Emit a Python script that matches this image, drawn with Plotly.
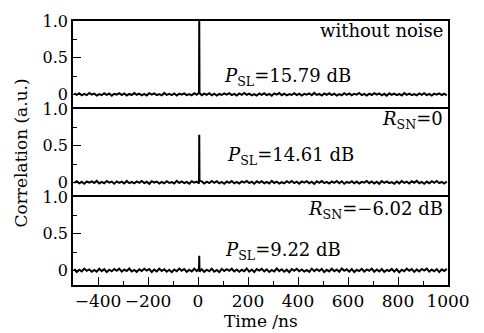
import plotly.graph_objects as go
from plotly.subplots import make_subplots

time_ns = list(range(-495, 0, 10)) + [4, 5, 6] + list(range(15, 1000, 10))

corr_clean = [
    0.012,-0.008,0.015,-0.014,0.006,-0.011,0.018,-0.005,0.009,-0.016,
    0.004,-0.012,0.014,-0.007,0.011,-0.018,0.008,-0.003,0.016,-0.010,
    0.013,-0.015,0.005,-0.009,0.017,-0.006,0.010,-0.013,0.007,-0.017,
    0.015,-0.004,0.012,-0.011,0.003,-0.014,0.019,-0.008,0.006,-0.012,
    0.011,-0.016,0.009,-0.005,0.014,-0.010,0.004,-0.013,0.016,-0.007,
    0.020, 1.0, 0.018,
    -0.012,0.010,-0.006,0.015,-0.014,0.008,-0.017,0.005,-0.009,0.013,
    -0.004,0.016,-0.011,0.007,-0.015,0.012,-0.008,0.018,-0.006,0.009,
    -0.013,0.004,-0.016,0.011,-0.007,0.014,-0.010,0.006,-0.018,0.013,
    -0.005,0.017,-0.012,0.008,-0.014,0.003,-0.009,0.015,-0.011,0.010,
    -0.016,0.007,-0.004,0.012,-0.013,0.019,-0.008,0.005,-0.015,0.011,
    -0.006,0.014,-0.010,0.009,-0.017,0.004,-0.012,0.016,-0.007,0.013,
    -0.014,0.008,-0.005,0.018,-0.011,0.006,-0.016,0.010,-0.009,0.015,
    -0.003,0.012,-0.013,0.007,-0.018,0.014,-0.006,0.011,-0.010,0.005,
    -0.015,0.017,-0.008,0.009,-0.012,0.004,-0.014,0.013,-0.007,0.016,
    -0.011,0.006,-0.017,0.010,-0.005,0.012,-0.009,0.008,-0.013,
]

corr_rsn0 = [
    -0.010,0.016,-0.013,0.007,-0.019,0.011,-0.005,0.014,-0.008,0.020,
    -0.015,0.006,-0.012,0.017,-0.004,0.010,-0.018,0.013,-0.007,0.009,
    -0.016,0.019,-0.011,0.005,-0.014,0.012,-0.006,0.018,-0.010,0.008,
    -0.020,0.015,-0.003,0.011,-0.017,0.007,-0.013,0.016,-0.009,0.004,
    -0.015,0.021,-0.008,0.012,-0.011,0.006,-0.018,0.014,-0.005,0.010,
    -0.015, 0.65, 0.020,
    0.013,-0.017,0.008,-0.011,0.019,-0.006,0.015,-0.014,0.005,-0.020,
    0.011,-0.008,0.017,-0.013,0.007,-0.016,0.012,-0.004,0.018,-0.010,
    0.009,-0.019,0.014,-0.007,0.016,-0.012,0.006,-0.015,0.020,-0.009,
    0.010,-0.017,0.004,-0.013,0.015,-0.006,0.019,-0.011,0.008,-0.018,
    0.012,-0.005,0.016,-0.014,0.009,-0.021,0.013,-0.008,0.017,-0.010,
    0.006,-0.016,0.011,-0.007,0.018,-0.012,0.014,-0.019,0.005,-0.009,
    0.015,-0.013,0.010,-0.017,0.007,-0.004,0.019,-0.011,0.012,-0.015,
    0.008,-0.020,0.016,-0.006,0.013,-0.010,0.004,-0.018,0.011,-0.014,
    0.017,-0.008,0.009,-0.016,0.014,-0.005,0.020,-0.012,0.006,-0.019,
    0.010,-0.013,0.015,-0.007,0.018,-0.011,0.005,-0.016,0.012,
]

corr_rsn_m6 = [
    0.018,-0.022,0.009,-0.015,0.024,-0.007,0.013,-0.020,0.005,-0.017,
    0.021,-0.011,0.016,-0.024,0.008,-0.013,0.019,-0.006,0.023,-0.018,
    0.011,-0.009,0.025,-0.016,0.006,-0.021,0.014,-0.010,0.020,-0.004,
    0.017,-0.023,0.010,-0.014,0.022,-0.008,0.015,-0.019,0.007,-0.025,
    0.012,-0.012,0.024,-0.005,0.018,-0.020,0.009,-0.016,0.021,-0.011,
    0.022, 0.20, -0.018,
    0.014,-0.021,0.008,-0.013,0.023,-0.017,0.005,-0.024,0.019,-0.009,
    0.016,-0.006,0.022,-0.015,0.011,-0.020,0.007,-0.012,0.025,-0.018,
    0.010,-0.023,0.017,-0.004,0.020,-0.014,0.013,-0.022,0.006,-0.016,
    0.024,-0.010,0.015,-0.019,0.009,-0.025,0.018,-0.007,0.021,-0.013,
    0.012,-0.017,0.004,-0.021,0.023,-0.011,0.016,-0.008,0.019,-0.024,
    0.007,-0.015,0.022,-0.012,0.010,-0.020,0.025,-0.006,0.014,-0.018,
    0.017,-0.023,0.008,-0.010,0.021,-0.016,0.013,-0.005,0.024,-0.019,
    0.011,-0.014,0.018,-0.022,0.006,-0.009,0.020,-0.017,0.015,-0.025,
    0.009,-0.012,0.023,-0.007,0.016,-0.021,0.012,-0.015,0.019,-0.004,
    0.022,-0.018,0.010,-0.013,0.017,-0.024,0.014,-0.008,0.020,
]

series = [corr_clean, corr_rsn0, corr_rsn_m6]
corner_labels = ["without noise", "<i>R</i><sub>SN</sub>=0", "<i>R</i><sub>SN</sub>=\u22126.02 dB"]
psl_labels = ["<i>P</i><sub>SL</sub>=15.79 dB", "<i>P</i><sub>SL</sub>=14.61 dB", "<i>P</i><sub>SL</sub>=9.22 dB"]
y_ticks = [0, 0.5, 1.0]
y_ticklabels = ["0", "0.5", "1.0"]
x_ticks = [-400, -200, 0, 200, 400, 600, 800, 1000]

FONT = "DejaVu Serif"
FS = 18

fig = make_subplots(rows=3, cols=1, shared_xaxes=True, vertical_spacing=0)

for i, ys in enumerate(series):
    fig.add_trace(go.Scatter(x=time_ns, y=ys, mode="lines",
                             line=dict(color="black", width=2),
                             showlegend=False), row=i + 1, col=1)
    fig.update_yaxes(range=[-0.2, 1.0], tickvals=y_ticks, ticktext=y_ticklabels,
                     ticks="inside", ticklen=8, tickwidth=1.3, tickcolor="black",
                     minor=dict(ticks="inside", ticklen=4, tickwidth=1.3, tickcolor="black",
                                tick0=0, dtick=0.25),
                     showline=True, linecolor="black", linewidth=1.5, mirror=True,
                     showgrid=False, zeroline=False,
                     tickfont=dict(family=FONT, size=16, color="black"),
                     row=i + 1, col=1)

# top two panels: draw only the top edge line (acts as separator)
for r in (1, 2):
    fig.update_xaxes(range=[-500, 1000], side="top", showline=True, linecolor="black",
                     linewidth=1.8, mirror=False, showgrid=False, zeroline=False,
                     showticklabels=False, ticks="", row=r, col=1)

fig.update_xaxes(range=[-500, 1000], side="bottom", showline=True, linecolor="black",
                 linewidth=1.8, mirror=True, showgrid=False, zeroline=False,
                 tickvals=x_ticks, ticks="inside", ticklen=8, tickwidth=1.3, tickcolor="black",
                 minor=dict(ticks="inside", ticklen=4, tickwidth=1.3, tickcolor="black",
                            tick0=-500, dtick=100),
                 showticklabels=True, tickfont=dict(family=FONT, size=17, color="black"),
                 row=3, col=1)

annos = []
corner_y = [0.865, 0.85, 0.82]
psl_pos = [(97, 0.23), (108, 0.36), (100, 0.27)]
for i in range(3):
    yref = "y" if i == 0 else f"y{i+1}"
    xref = "x" if i == 0 else f"x{i+1}"
    annos.append(dict(x=988, y=corner_y[i], xref=xref, yref=yref, text=corner_labels[i],
                      showarrow=False, xanchor="right", yanchor="middle",
                      font=dict(family=FONT, size=FS, color="black")))
    annos.append(dict(x=psl_pos[i][0], y=psl_pos[i][1], xref=xref, yref=yref, text=psl_labels[i],
                      showarrow=False, xanchor="left", yanchor="middle",
                      font=dict(family=FONT, size=FS, color="black")))
annos.append(dict(x=-0.14, y=0.5, xref="paper", yref="paper", text="Correlation (a.u.)",
                  textangle=-90, showarrow=False, xanchor="center", yanchor="middle",
                  font=dict(family=FONT, size=17, color="black")))
annos.append(dict(x=0.5, y=-0.137, xref="paper", yref="paper", text="Time /ns",
                  showarrow=False, xanchor="center", yanchor="middle",
                  font=dict(family=FONT, size=17, color="black")))

fig.update_layout(width=484, height=333, margin=dict(l=73, r=36, t=15, b=48),
                  paper_bgcolor="white", plot_bgcolor="white", annotations=annos,
                  font=dict(family=FONT, size=FS, color="black"))

fig.write_html("out.html")
